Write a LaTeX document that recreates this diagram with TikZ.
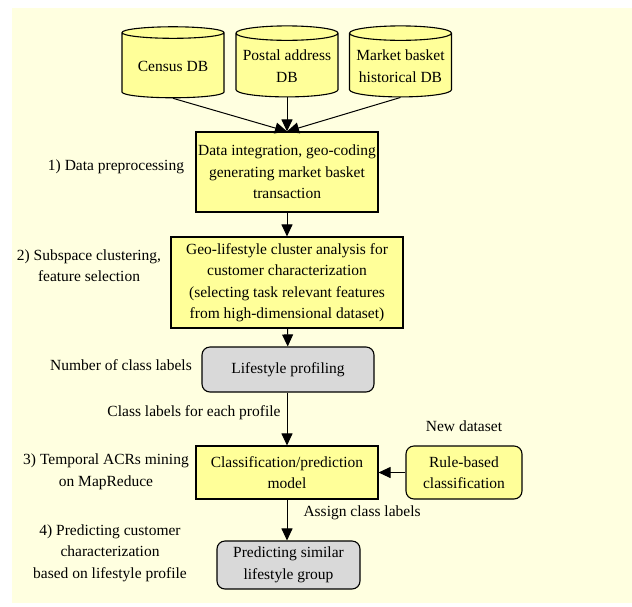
\documentclass[tikz,border=0pt]{standalone}
\usepackage{fontspec}
\setmainfont{Liberation Serif}
\usetikzlibrary{arrows.meta,shapes.geometric}

\definecolor{paper}{RGB}{255,255,224}
\definecolor{stagefill}{RGB}{255,255,153}
\definecolor{resultfill}{RGB}{217,217,217}

\tikzset{
  txt/.style={font=\fontsize{15.5}{21.5}\selectfont,align=center,inner sep=1pt},
  stage/.style={txt,draw,line width=1.1pt,fill=stagefill},
  result/.style={stage,fill=resultfill,rounded corners=8pt},
  db/.style={txt,draw,line width=1.1pt,fill=stagefill,cylinder,
    shape border rotate=90,aspect=0.16,minimum width=102pt,minimum height=71pt},
  flow/.style={-{Triangle[length=12pt,width=11pt]},line width=1pt}
}

\begin{document}
\begin{tikzpicture}[x=1pt,y=-1pt]
  \useasboundingbox (0,0) rectangle (632,606);
  \fill[paper] (12,8) rectangle (632,603);

  % data sources
  \node[db] (census) at (173,66) {Census DB};
  \node[db] (postal) at (287,66) {Postal address\\DB};
  \node[db] (basket) at (400.5,66) {Market basket\\historical DB};

  % processing chain
  \node[stage,minimum width=182pt,minimum height=80pt] (integ) at (287,172)
    {Data integration, geo-coding\\generating market basket\\transaction};
  \node[stage,minimum width=232pt,minimum height=91pt] (cluster) at (287,282.5)
    {Geo-lifestyle cluster analysis for\\customer characterization\\(selecting task relevant features\\from high-dimensional dataset)};
  \node[result,minimum width=172pt,minimum height=45pt] (profiling) at (288,369.5)
    {Lifestyle profiling};
  \node[stage,minimum width=182pt,minimum height=53pt] (model) at (287,472.5)
    {Classification/prediction\\model};
  \node[stage,rounded corners=8pt,minimum width=116pt,minimum height=53pt] (rules) at (464,472.5)
    {Rule-based\\classification};
  \node[result,minimum width=143pt,minimum height=48pt] (group) at (288.5,565)
    {Predicting similar\\lifestyle group};

  % step labels on the left
  \node[txt] (step1) at (116,167) {1) Data preprocessing};
  \node[txt] (step2) at (89,265.5) {2) Subspace clustering,\\feature selection};
  \node[txt] (nclass) at (121,365) {Number of class labels};
  \node[txt] (step3) at (106,472) {3) Temporal ACRs mining\\on MapReduce};
  \node[txt] (step4) at (110,553) {4) Predicting customer\\characterization\\based on lifestyle profile};
  \node[txt] (newdata) at (464,426) {New dataset};

  % connectors
  \draw[flow] (census.south) -- (integ.north);
  \draw[flow] (postal.south) -- (integ.north);
  \draw[flow] (basket.south) -- (integ.north);
  \draw[flow] (integ) -- (cluster);
  \draw[flow] (cluster) -- (profiling);
  \draw[flow] (profiling.south -| model.north) -- (model.north)
    node[txt,pos=0.39,anchor=east,xshift=-5pt] {Class labels for each profile};
  \draw[flow] (rules) -- (model);
  \draw[flow] (model.south) -- (model.south |- group.north)
    node[txt,pos=0.33,anchor=west,xshift=15pt] {Assign class labels};
\end{tikzpicture}
\end{document}
